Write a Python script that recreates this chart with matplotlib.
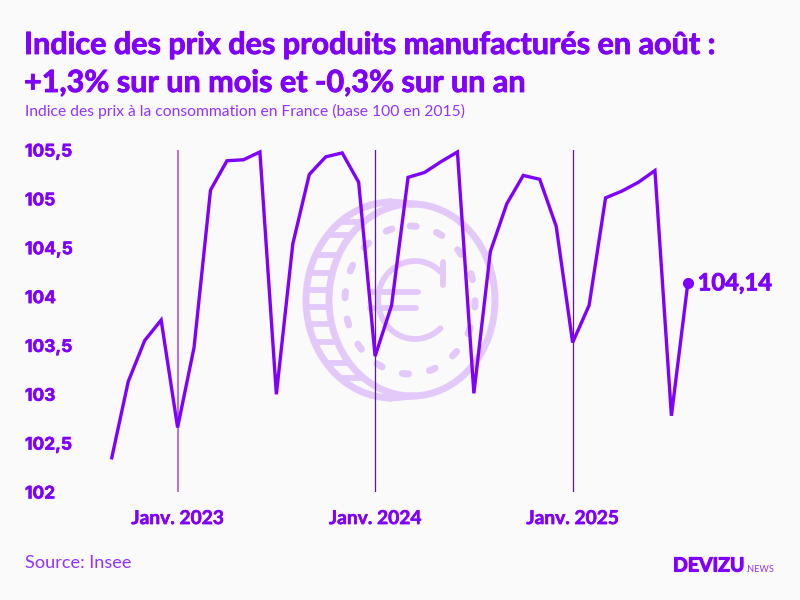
import numpy as np
import matplotlib
matplotlib.use("Agg")
import matplotlib.pyplot as plt
import matplotlib.patheffects as pe
from matplotlib.patches import Ellipse, Arc

months = ["2022-09","2022-10","2022-11","2022-12","2023-01","2023-02","2023-03","2023-04","2023-05","2023-06","2023-07","2023-08",
          "2023-09","2023-10","2023-11","2023-12","2024-01","2024-02","2024-03","2024-04","2024-05","2024-06","2024-07","2024-08",
          "2024-09","2024-10","2024-11","2024-12","2025-01","2025-02","2025-03","2025-04","2025-05","2025-06","2025-07","2025-08"]
values = [102.35,103.13,103.55,103.76,102.66,103.48,105.09,105.39,105.40,105.48,103.00,104.54,
          105.25,105.43,105.47,105.17,103.39,103.91,105.22,105.27,105.38,105.48,103.01,104.46,
          104.95,105.24,105.20,104.72,103.53,103.91,105.01,105.08,105.17,105.29,102.78,104.14]
y_ticks = [102,102.5,103,103.5,104,104.5,105,105.5]
y_labels = ["102","102,5","103","103,5","104","104,5","105","105,5"]
jan_months = ["2023-01","2024-01","2025-01"]
jan_labels = ["Janv. 2023","Janv. 2024","Janv. 2025"]
last_label = "104,14"

PURPLE = "#7F00FF"
LIGHT = "#9232FF"
BG = "#FAFAFA"
COIN = "#E3C9F9"
plt.rcParams["font.family"] = ["Lato", "DejaVu Sans"]
heavy = lambda w: [pe.withStroke(linewidth=w, foreground=PURPLE)]

fig = plt.figure(figsize=(8,6), dpi=100, facecolor=BG)

# decorative coin in pixel coordinates
bgax = fig.add_axes([0,0,1,1], zorder=0)
bgax.set_xlim(0,800); bgax.set_ylim(600,0); bgax.axis("off")
lw = 5
fc, fa, fb = 412, 83, 96
bc, ba, bb = 392, 86, 98
bgax.add_patch(Ellipse((fc,300),2*fa,2*fb,fill=False,ec=COIN,lw=lw))
bgax.add_patch(Arc((bc,300),2*ba,2*bb,theta1=90,theta2=270,ec=COIN,lw=lw))
bgax.plot([bc,fc],[202,204],color=COIN,lw=lw)
bgax.plot([bc,fc],[398,396],color=COIN,lw=lw)
for yy in [222,235,255,273,290,307,324,342,363,378]:
    k = (yy-300)
    xa = bc-ba*np.sqrt(1-(k/bb)**2)
    xb = fc-fa*np.sqrt(1-(k/fb)**2)
    bgax.plot([xa,xb],[yy,yy],color=COIN,lw=4.2,solid_capstyle="butt")
bgax.add_patch(Ellipse((410,300),130,148,fill=False,ec=COIN,lw=lw,ls=(0,(0.9,3.06)),capstyle="round"))
bgax.add_patch(Arc((415,300),74,78,theta1=48,theta2=312,ec=COIN,lw=4.2,capstyle="round"))
bgax.plot([443,443],[262,285],color=COIN,lw=4.2,solid_capstyle="round")
bgax.plot([372,418],[292,292],color=COIN,lw=4.2,solid_capstyle="round")
bgax.plot([370,416],[308,308],color=COIN,lw=4.2,solid_capstyle="round")

# main chart: pixel-calibrated axes
L,R,T,B = 95,700,150,492
ax = fig.add_axes([L/800,1-B/600,(R-L)/800,(B-T)/600], zorder=1)
ax.patch.set_alpha(0)
px = 16.46
x = np.arange(len(values))
ax.set_xlim((L-177.6)/px+4,(R-177.6)/px+4)
ax.set_ylim(102,105.5)
for s in ax.spines.values():
    s.set_visible(False)

jan_idx = [months.index(m) for m in jan_months]
for j,c,w in zip(jan_idx,["#A855F7","#5A18A8","#5A18A8"],[1.2,0.9,0.9]):
    ax.axvline(j,color=c,lw=w,zorder=1)
ax.plot(x,values,color=PURPLE,lw=2.4,solid_joinstyle="miter",zorder=3,clip_on=False)
ax.plot(x[-1],values[-1],"o",color=PURPLE,ms=7,zorder=4,clip_on=False)
ax.annotate(last_label,(x[-1],values[-1]),xytext=(7,0),textcoords="offset points",va="center",ha="left",
            color=PURPLE,fontsize=17.1,fontweight="bold",annotation_clip=False,path_effects=heavy(0.6))

ax.set_yticks(y_ticks,y_labels)
ax.set_xticks(jan_idx,jan_labels)
ax.tick_params(axis="both",length=0)
ax.tick_params(axis="y",pad=(L-25)*0.72)
ax.tick_params(axis="x",pad=13)
for t in ax.get_yticklabels():
    t.set_ha("left"); t.set_color(PURPLE); t.set_fontsize(12.5); t.set_fontweight("bold"); t.set_family(["Inter","DejaVu Sans"])
    t.set_path_effects(heavy(0.4))
for t in ax.get_xticklabels():
    t.set_color(PURPLE); t.set_fontsize(13.8); t.set_fontweight("bold"); t.set_path_effects(heavy(0.4))

# texts
fig.text(24/800,1-45/600,"Indice des prix des produits manufacturés en août :",color=PURPLE,fontsize=22,fontweight="bold",va="center",path_effects=heavy(0.6))
fig.text(24/800,1-83/600,"+1,3% sur un mois et -0,3% sur un an",color=PURPLE,fontsize=22,fontweight="bold",va="center",path_effects=heavy(0.6))
fig.text(25/800,1-111/600,"Indice des prix à la consommation en France (base 100 en 2015)",color=LIGHT,fontsize=11.25,va="center")
fig.text(25/800,1-563/600,"Source: Insee",color=LIGHT,fontsize=13.1,va="center")
fig.text(673/800,1-566/600,"DEVIZU",color=PURPLE,fontsize=14,fontweight="bold",va="center",path_effects=heavy(0.8))
fig.text(746/800,1-570/600,".NEWS",color=LIGHT,fontsize=6.6,va="center")

fig.savefig("out.png",dpi=100,facecolor=BG)
